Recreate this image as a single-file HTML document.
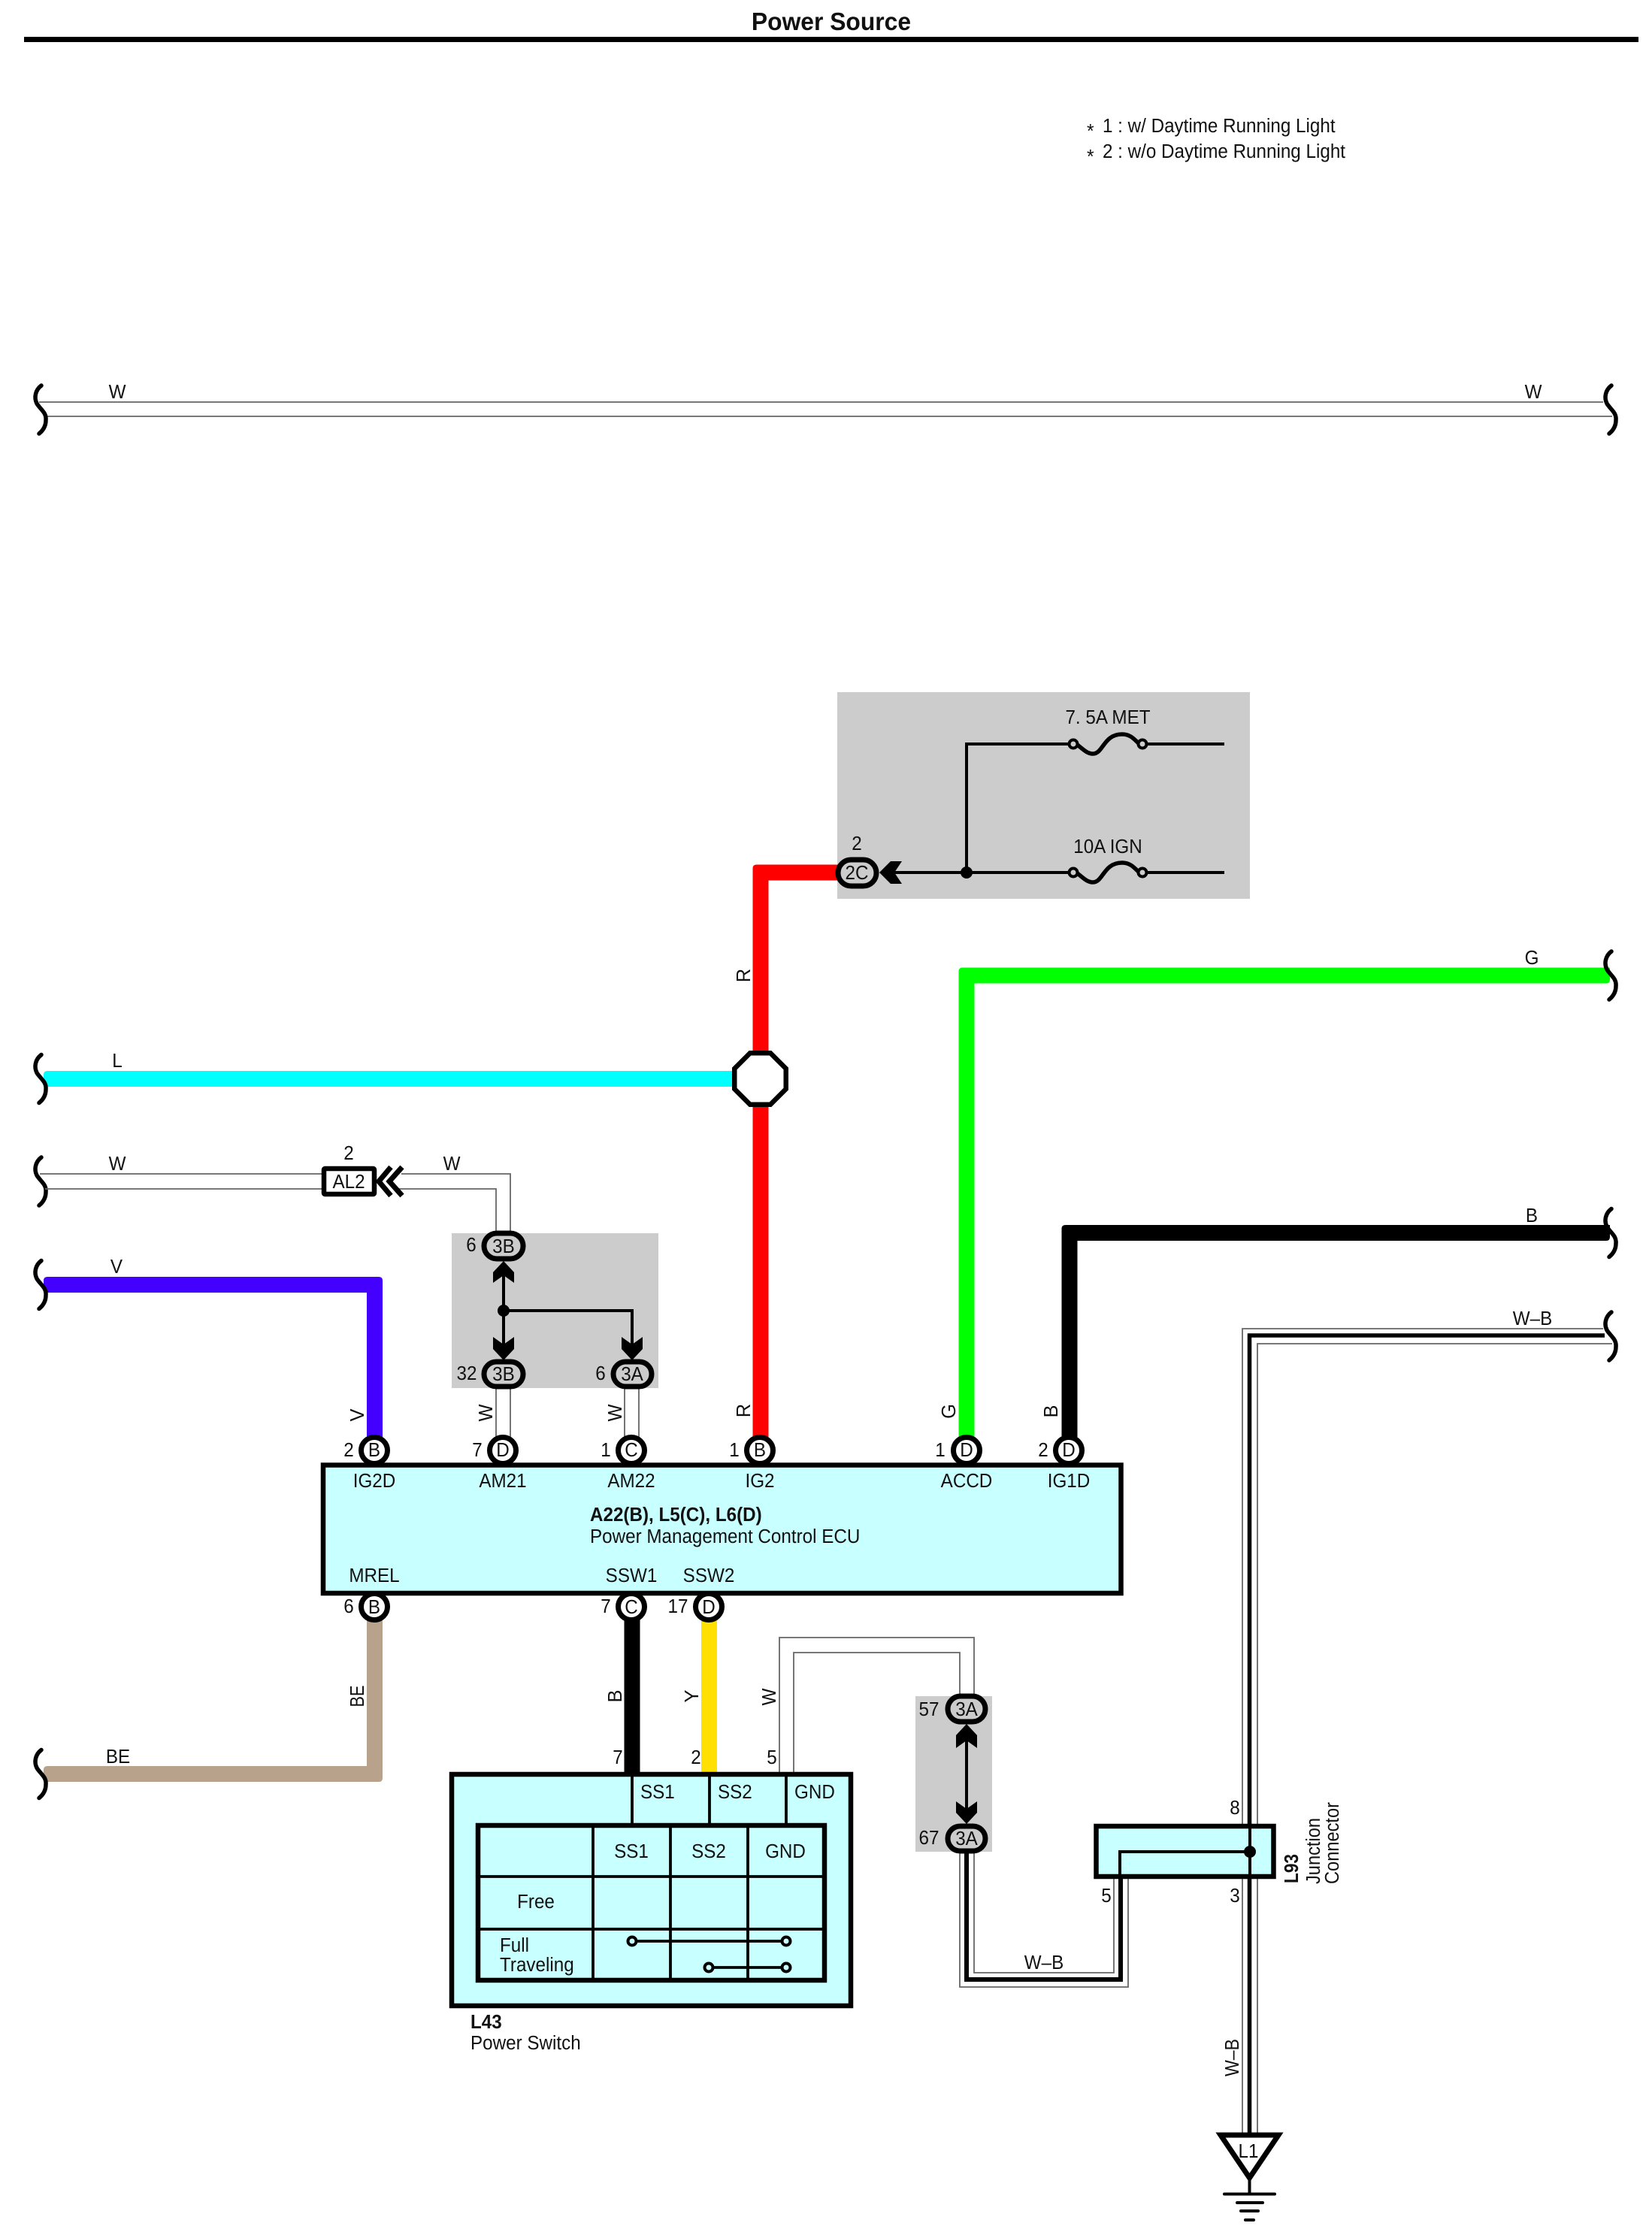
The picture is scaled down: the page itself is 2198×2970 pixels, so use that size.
<!DOCTYPE html>
<html><head><meta charset="utf-8"><title>Power Source</title>
<style>
html,body{margin:0;padding:0;background:#fff}
svg{display:block}
text{font-family:"Liberation Sans",Arial,sans-serif;font-size:25.5px;fill:#111;text-anchor:middle}
text:not([transform]){transform-box:fill-box;transform-origin:center;transform:scaleX(.95)}
.s{text-anchor:start}
.s:not([transform]){transform-origin:left center}
.b{font-weight:bold}
.g{fill:none;stroke:#666;stroke-width:1.8}
.k{fill:none;stroke:#000}
.c{fill:#c8ffff;stroke:#000;stroke-width:6.5}
.o{fill:#fff;stroke:#000;stroke-width:7}
.p{fill:#ccc;stroke:#000;stroke-width:7}
.h{fill:none;stroke:#000;stroke-width:5.5;stroke-linecap:round}
</style></head><body>
<svg width="2198" height="2970" viewBox="0 0 2198 2970" xmlns="http://www.w3.org/2000/svg">
<defs><path id="br" class="h" d="M55 -32C47 -26 45 -16 49 -8C54 0 62 4 61 14C61 22 57 28 52 32"/></defs>
<rect width="2198" height="2970" fill="#fff"/>

<!-- header -->
<text x="1106" y="40" class="b" style="font-size:33.5px">Power Source</text>
<rect x="32" y="49" width="2148" height="7" fill="#000"/>
<text x="1446" y="183" class="s" style="font-size:26px">*</text>
<text x="1467" y="176" class="s">1 : w/ Daytime Running Light</text>
<text x="1446" y="217" class="s" style="font-size:26px">*</text>
<text x="1467" y="210" class="s">2 : w/o Daytime Running Light</text>

<!-- top W wire -->
<path class="g" d="M52 535H2133M62 554H2145"/>
<use href="#br" x="0" y="545"/>
<use href="#br" x="2089" y="545"/>
<text x="156" y="530">W</text>
<text x="2040" y="530">W</text>

<!-- grey boxes -->
<rect x="1114" y="921" width="549" height="275" fill="#ccc"/>
<rect x="601" y="1641" width="275" height="206" fill="#ccc"/>
<rect x="1218" y="2257" width="102" height="207" fill="#ccc"/>

<!-- fuses -->
<path class="k" stroke-width="4" d="M1190 1161H1423M1286 1161V990H1423M1525 990H1629M1525 1161H1629"/>
<path class="k" stroke-width="5.5" d="M1432 990C1440 996 1446 1003 1454 1003C1468 1003 1468 977 1493 977C1505 977 1510 985 1516 990"/>
<path class="k" stroke-width="5.5" d="M1432 1161C1440 1167 1446 1174 1454 1174C1468 1174 1468 1148 1493 1148C1505 1148 1510 1156 1516 1161"/>
<circle cx="1428" cy="990" r="5.5" fill="#ccc" stroke="#000" stroke-width="4"/>
<circle cx="1520" cy="990" r="5.5" fill="#ccc" stroke="#000" stroke-width="4"/>
<circle cx="1428" cy="1161" r="5.5" fill="#ccc" stroke="#000" stroke-width="4"/>
<circle cx="1520" cy="1161" r="5.5" fill="#ccc" stroke="#000" stroke-width="4"/>
<circle cx="1286" cy="1161" r="8" fill="#000"/>
<polygon points="1170,1161 1185,1146 1200,1146 1190,1161 1200,1176 1185,1176" fill="#000"/>
<text x="1474" y="963">7. 5A MET</text>
<text x="1474" y="1135">10A IGN</text>
<text x="1140" y="1131">2</text>

<!-- thick wires -->
<path fill="#ff0000" d="M1116 1150.5H1006.5Q1001.5 1150.5 1001.5 1155.5V1912H1022.5V1171.5H1116Z"/>
<path fill="#00ffff" d="M985 1425H63Q58 1425 58 1430V1446H985Z"/>
<path fill="#00ff00" d="M2142 1287.5H1280.5Q1275.5 1287.5 1275.5 1292.5V1912H1296.5V1308.5H2137Q2142 1308.5 2142 1303.5Z"/>
<path fill="#000" d="M2142 1630H1417.5Q1412.5 1630 1412.5 1635V1912H1433.5V1651H2137Q2142 1651 2142 1646Z"/>
<path fill="#4400ff" d="M63 1699H504Q509 1699 509 1704V1912H488V1720H58V1704Q58 1699 63 1699Z"/>
<path fill="#b8a28b" d="M63 2350H488V2150H509V2366Q509 2371 504 2371H58V2355Q58 2350 63 2350Z"/>
<rect x="830.5" y="2150" width="21" height="210" fill="#000"/>
<rect x="933" y="2150" width="21" height="210" fill="#ffe000"/>

<use href="#br" x="0" y="1435.5"/>
<use href="#br" x="0" y="1572"/>
<use href="#br" x="0" y="1709.5"/>
<use href="#br" x="0" y="2360.5"/>
<use href="#br" x="2089" y="1298"/>
<use href="#br" x="2089" y="1640.5"/>
<use href="#br" x="2089" y="1778"/>

<!-- octagon splice -->
<polygon points="998,1401.25 1025,1401.25 1045.75,1422 1045.75,1449 1025,1469.75 998,1469.75 977.25,1449 977.25,1422" fill="#fff" stroke="#000" stroke-width="6.5"/>

<!-- thin W wires -->
<path class="g" d="M53 1562H428M60 1582H428M534 1562H679V1640M530 1582H660V1640"/>
<path class="g" d="M660 1846V1912M679 1846V1912M831 1846V1912M850 1846V1912"/>
<path class="g" d="M1037 2358V2179H1296V2256M1056 2358V2199H1277V2256"/>

<!-- W-B wires -->
<path class="g" d="M2133 1768H1653V2838M2145 1788H1673V2838"/>
<path class="k" stroke-width="5.5" d="M2135 1777H1662.5V2430M1662.5 2497V2840"/>
<path class="g" d="M1277 2464V2644H1501V2500M1296 2464V2625H1482V2500"/>
<path class="k" stroke-width="6" d="M1286 2464V2634H1491V2498"/>

<!-- AL2 -->
<rect x="431" y="1555" width="67" height="34" rx="1.5" fill="#fff" stroke="#000" stroke-width="6.5"/>
<path class="k" stroke-width="7" d="M520 1553L504 1572L520 1591M535 1553L518 1572L535 1591"/>
<text x="464" y="1581">AL2</text>
<text x="464" y="1543">2</text>
<text x="156" y="1557">W</text>
<text x="601" y="1557">W</text>

<!-- junction block 3B/3A -->
<path class="k" stroke-width="4" d="M670 1680V1808M670 1744H841V1808"/>
<circle cx="670" cy="1744" r="8" fill="#000"/>
<polygon points="670,1678 684,1693 684,1707 670,1697 656,1707 656,1693" fill="#000"/>
<polygon points="670,1810 684,1795 684,1779 670,1789 656,1779 656,1795" fill="#000"/>
<polygon points="841,1810 855,1795 855,1779 841,1789 827,1779 827,1795" fill="#000"/>

<path class="k" stroke-width="4" d="M1286 2296V2425"/>
<polygon points="1286,2294 1300,2309 1300,2326 1286,2316 1272,2326 1272,2309" fill="#000"/>
<polygon points="1286,2427 1300,2412 1300,2397 1286,2407 1272,2397 1272,2412" fill="#000"/>

<!-- stadium connectors -->
<rect x="1115" y="1144" width="51" height="35" rx="17.5" class="p"/>
<text x="1140" y="1170">2C</text>
<rect x="644" y="1641" width="52" height="34" rx="17" class="p"/>
<text x="670" y="1667">3B</text>
<text x="627" y="1665">6</text>
<rect x="644" y="1812" width="52" height="33" rx="16.5" class="p"/>
<text x="670" y="1837">3B</text>
<text x="621" y="1836">32</text>
<rect x="816" y="1812" width="51" height="33" rx="16.5" class="p"/>
<text x="841" y="1837">3A</text>
<text x="799" y="1836">6</text>
<rect x="1261" y="2257" width="50" height="34" rx="17" class="p"/>
<text x="1286" y="2283">3A</text>
<text x="1236" y="2283">57</text>
<rect x="1261" y="2430" width="50" height="33" rx="16.5" class="p"/>
<text x="1286" y="2455">3A</text>
<text x="1236" y="2454">67</text>

<!-- ECU connector circles -->
<circle cx="498" cy="1930" r="17.5" class="o"/>
<circle cx="669" cy="1930" r="17.5" class="o"/>
<circle cx="840" cy="1930" r="17.5" class="o"/>
<circle cx="1011" cy="1930" r="17.5" class="o"/>
<circle cx="1286" cy="1930" r="17.5" class="o"/>
<circle cx="1422" cy="1930" r="17.5" class="o"/>
<circle cx="498" cy="2138" r="17.5" class="o"/>
<circle cx="840" cy="2138" r="17.5" class="o"/>
<circle cx="943" cy="2138" r="17.5" class="o"/>

<!-- ECU box -->
<rect x="430" y="1949.5" width="1061.5" height="170.5" class="c"/>
<text x="498" y="1938">B</text><text x="669" y="1938">D</text><text x="840" y="1938">C</text>
<text x="1011" y="1938">B</text><text x="1286" y="1938">D</text><text x="1422" y="1938">D</text>
<text x="464" y="1938">2</text><text x="635" y="1938">7</text><text x="806" y="1938">1</text>
<text x="977" y="1938">1</text><text x="1251" y="1938">1</text><text x="1388" y="1938">2</text>
<text x="498" y="1979">IG2D</text><text x="669" y="1979">AM21</text><text x="840" y="1979">AM22</text>
<text x="1011" y="1979">IG2</text><text x="1286" y="1979">ACCD</text><text x="1422" y="1979">IG1D</text>
<text x="785" y="2024" class="s b">A22(B), L5(C), L6(D)</text>
<text x="785" y="2053" class="s">Power Management Control ECU</text>
<text x="498" y="2105">MREL</text><text x="840" y="2105">SSW1</text><text x="943" y="2105">SSW2</text>
<text x="498" y="2147">B</text><text x="840" y="2147">C</text><text x="943" y="2147">D</text>
<text x="464" y="2146">6</text><text x="806" y="2146">7</text><text x="902" y="2146">17</text>

<!-- wire labels -->
<text x="156" y="1420">L</text>
<text x="155" y="1694">V</text>
<text x="157" y="2346">BE</text>
<text x="2038" y="1283">G</text>
<text x="2038" y="1626">B</text>
<text x="2039" y="1763">W–B</text>
<text transform="rotate(-90 998 1298)" x="998" y="1298">R</text>
<text transform="rotate(-90 484 1883)" x="484" y="1883">V</text>
<text transform="rotate(-90 655 1880)" x="655" y="1880" textLength="23" lengthAdjust="spacingAndGlyphs">W</text>
<text transform="rotate(-90 827 1880)" x="827" y="1880" textLength="23" lengthAdjust="spacingAndGlyphs">W</text>
<text transform="rotate(-90 998 1877)" x="998" y="1877">R</text>
<text transform="rotate(-90 1271 1878)" x="1271" y="1878">G</text>
<text transform="rotate(-90 1407 1878)" x="1407" y="1878">B</text>
<text transform="rotate(-90 484 2257)" x="484" y="2257" textLength="29" lengthAdjust="spacingAndGlyphs">BE</text>
<text transform="rotate(-90 827 2257)" x="827" y="2257">B</text>
<text transform="rotate(-90 929 2257)" x="929" y="2257">Y</text>
<text transform="rotate(-90 1032 2258)" x="1032" y="2258" textLength="23" lengthAdjust="spacingAndGlyphs">W</text>
<text transform="rotate(-90 1648 2738)" x="1648" y="2738" textLength="50" lengthAdjust="spacingAndGlyphs">W–B</text>

<!-- L43 power switch -->
<rect x="601" y="2361" width="531" height="308" class="c"/>
<path class="k" stroke-width="3.8" d="M841 2358V2428M944 2358V2428M1046 2358V2428"/>
<text x="852" y="2393" class="s">SS1</text>
<text x="955" y="2393" class="s">SS2</text>
<text x="1057" y="2393" class="s">GND</text>
<rect x="636" y="2429" width="461" height="206" fill="none" stroke="#000" stroke-width="6.5"/>
<path class="k" stroke-width="3.8" d="M789 2429V2635M892 2429V2635M995 2429V2635M636 2497H1097M636 2567H1097"/>
<path class="k" stroke-width="3.8" d="M841 2583H1046M943 2618H1046"/>
<circle cx="841" cy="2583" r="5.5" fill="#c8ffff" stroke="#000" stroke-width="4"/>
<circle cx="1046" cy="2583" r="5.5" fill="#c8ffff" stroke="#000" stroke-width="4"/>
<circle cx="943" cy="2618" r="5.5" fill="#c8ffff" stroke="#000" stroke-width="4"/>
<circle cx="1046" cy="2618" r="5.5" fill="#c8ffff" stroke="#000" stroke-width="4"/>
<text x="840" y="2472">SS1</text><text x="943" y="2472">SS2</text><text x="1045" y="2472">GND</text>
<text x="713" y="2539">Free</text>
<text x="665" y="2597" class="s">Full</text>
<text x="665" y="2623" class="s">Traveling</text>
<text x="626" y="2699" class="s b">L43</text>
<text x="626" y="2727" class="s">Power Switch</text>
<text x="822" y="2347">7</text><text x="926" y="2347">2</text><text x="1027" y="2347">5</text>

<!-- L93 junction connector -->
<rect x="1458.5" y="2430" width="236" height="67" class="c"/>
<path class="k" stroke-width="4" d="M1490 2500V2464H1663M1663 2430V2497"/>
<circle cx="1663" cy="2464" r="8" fill="#000"/>
<text x="1472" y="2531">5</text>
<text x="1643" y="2414">8</text>
<text x="1643" y="2531">3</text>
<text transform="rotate(-90 1727 2506)" x="1727" y="2506" class="s b" textLength="39" lengthAdjust="spacingAndGlyphs">L93</text>
<text transform="rotate(-90 1756 2507)" x="1756" y="2507" class="s" textLength="88" lengthAdjust="spacingAndGlyphs">Junction</text>
<text transform="rotate(-90 1781 2507)" x="1781" y="2507" class="s" textLength="109" lengthAdjust="spacingAndGlyphs">Connector</text>
<text x="1389" y="2620">W–B</text>

<!-- ground -->
<polygon points="1624,2841 1701,2841 1662.5,2898" fill="#fff" stroke="#000" stroke-width="7"/>
<text x="1661" y="2871">L1</text>
<path class="k" stroke-width="4" d="M1662.5 2900V2920"/>
<path class="k" stroke-width="4" stroke-linecap="round" d="M1629 2919.5H1696M1646 2931H1680M1651 2942H1674M1657 2954H1668"/>
</svg>
</body></html>
